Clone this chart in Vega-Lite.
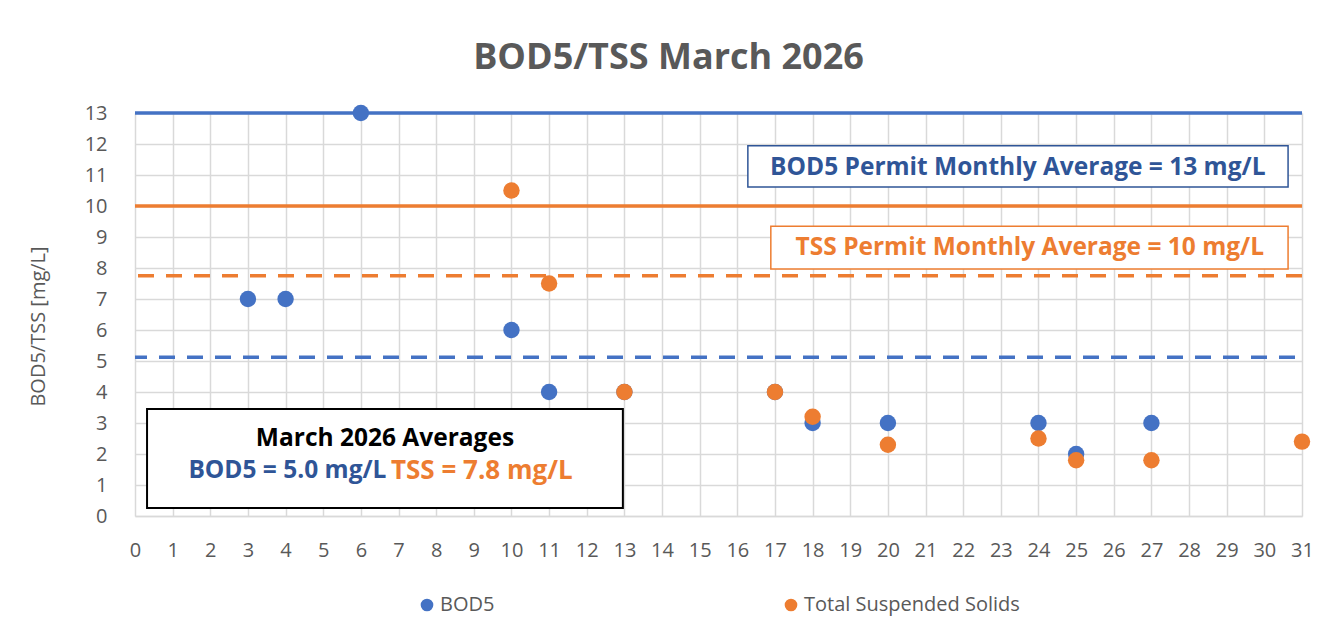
{
  "$schema": "https://vega.github.io/schema/vega-lite/v6.json",
  "autosize": "none",
  "width": 1167,
  "height": 403,
  "padding": {"left": 135, "top": 113, "right": 26, "bottom": 120},
  "background": "white",
  "config": {
    "view": {"stroke": null},
    "font": "Open Sans",
    "axis": {
      "gridColor": "#D9D9D9",
      "gridWidth": 1.5,
      "domainColor": "#D9D9D9",
      "domainWidth": 1.5,
      "ticks": false,
      "labelColor": "#595959",
      "labelFont": "Open Sans",
      "labelFontSize": 20,
      "labelOverlap": false,
      "labelFlush": false,
      "labelBound": false,
      "titleColor": "#595959",
      "titleFont": "Open Sans",
      "titleFontWeight": "normal",
      "titleFontSize": 20
    },
    "axisX": {"tickCount": 31, "labelPadding": 24, "title": null},
    "axisY": {"tickCount": 13, "labelPadding": 28, "titlePadding": 36, "titleY": 213, "domain": false}
  },
  "title": {
    "text": "BOD5/TSS March 2026",
    "font": "Open Sans",
    "fontSize": 36,
    "fontWeight": "bold",
    "color": "#595959",
    "anchor": "middle",
    "dx": -50,
    "offset": 26
  },
  "datasets": {
    "points": [
      {"day": 3, "value": 7, "series": "BOD5"},
      {"day": 4, "value": 7, "series": "BOD5"},
      {"day": 6, "value": 13, "series": "BOD5"},
      {"day": 10, "value": 6, "series": "BOD5"},
      {"day": 11, "value": 4, "series": "BOD5"},
      {"day": 13, "value": 4, "series": "BOD5"},
      {"day": 17, "value": 4, "series": "BOD5"},
      {"day": 18, "value": 3, "series": "BOD5"},
      {"day": 20, "value": 3, "series": "BOD5"},
      {"day": 24, "value": 3, "series": "BOD5"},
      {"day": 25, "value": 2, "series": "BOD5"},
      {"day": 27, "value": 3, "series": "BOD5"},
      {"day": 10, "value": 10.5, "series": "Total Suspended Solids"},
      {"day": 11, "value": 7.5, "series": "Total Suspended Solids"},
      {"day": 13, "value": 4, "series": "Total Suspended Solids"},
      {"day": 17, "value": 4, "series": "Total Suspended Solids"},
      {"day": 18, "value": 3.2, "series": "Total Suspended Solids"},
      {"day": 20, "value": 2.3, "series": "Total Suspended Solids"},
      {"day": 24, "value": 2.5, "series": "Total Suspended Solids"},
      {"day": 25, "value": 1.8, "series": "Total Suspended Solids"},
      {"day": 27, "value": 1.8, "series": "Total Suspended Solids"},
      {"day": 31, "value": 2.4, "series": "Total Suspended Solids"}
    ]
  },
  "layer": [
    {
      "data": {"values": [{"limit": 13}]},
      "mark": {"type": "rule", "color": "#4472C4", "strokeWidth": 3.5},
      "encoding": {"y": {"field": "limit", "type": "quantitative", "title": "BOD5/TSS [mg/L]", "scale": {"domain": [0, 13], "nice": false}}}
    },
    {
      "data": {"values": [{"limit": 10}]},
      "mark": {"type": "rule", "color": "#ED7D31", "strokeWidth": 3.5},
      "encoding": {"y": {"field": "limit", "type": "quantitative", "title": "BOD5/TSS [mg/L]"}}
    },
    {
      "data": {"values": [{"avg": 7.75}]},
      "mark": {"type": "rule", "color": "#ED7D31", "strokeWidth": 3.5, "strokeDash": [16, 12]},
      "encoding": {"y": {"field": "avg", "type": "quantitative", "title": "BOD5/TSS [mg/L]"}}
    },
    {
      "data": {"values": [{"avg": 5.12}]},
      "mark": {"type": "rule", "color": "#4472C4", "strokeWidth": 3.5, "strokeDash": [16, 12], "strokeDashOffset": -7},
      "encoding": {"y": {"field": "avg", "type": "quantitative", "title": "BOD5/TSS [mg/L]"}}
    },
    {
      "data": {"values": [{"x": 16.28, "x2": 30.63, "y": 11.94, "y2": 10.61}]},
      "mark": {"type": "rect", "fill": "white", "stroke": "#2F5597", "strokeWidth": 1.5},
      "encoding": {
        "x": {"field": "x", "type": "quantitative", "title": null, "scale": {"domain": [0, 31], "nice": false}},
        "x2": {"field": "x2"},
        "y": {"field": "y", "type": "quantitative", "title": "BOD5/TSS [mg/L]"},
        "y2": {"field": "y2"}
      }
    },
    {
      "data": {"values": [{"x": 16.89, "x2": 30.63, "y": 9.35, "y2": 7.97}]},
      "mark": {"type": "rect", "fill": "white", "stroke": "#ED7D31", "strokeWidth": 1.5},
      "encoding": {
        "x": {"field": "x", "type": "quantitative", "title": null},
        "x2": {"field": "x2"},
        "y": {"field": "y", "type": "quantitative", "title": "BOD5/TSS [mg/L]"},
        "y2": {"field": "y2"}
      }
    },
    {
      "data": {"values": [{"x": 0.32, "x2": 12.96, "y": 3.45, "y2": 0.26}]},
      "mark": {"type": "rect", "fill": "white", "stroke": "black", "strokeWidth": 2},
      "encoding": {
        "x": {"field": "x", "type": "quantitative", "title": null},
        "x2": {"field": "x2"},
        "y": {"field": "y", "type": "quantitative", "title": "BOD5/TSS [mg/L]"},
        "y2": {"field": "y2"}
      }
    },
    {
      "data": {"name": "points"},
      "mark": {"type": "point", "filled": true, "shape": "circle", "size": 270, "opacity": 1},
      "encoding": {
        "x": {"field": "day", "type": "quantitative", "title": null},
        "y": {"field": "value", "type": "quantitative", "title": "BOD5/TSS [mg/L]"},
        "color": {
          "field": "series",
          "type": "nominal",
          "scale": {"domain": ["BOD5", "Total Suspended Solids"], "range": ["#4472C4", "#ED7D31"]},
          "legend": {
            "orient": "none",
            "legendX": 282,
            "legendY": 482,
            "direction": "horizontal",
            "title": null,
            "symbolType": "circle",
            "symbolSize": 160,
            "labelFontSize": 20,
            "labelLimit": 400,
            "labelColor": "#595959",
            "labelFont": "Open Sans",
            "labelOffset": 3,
            "columnPadding": 286
          }
        }
      }
    },
    {
      "data": {"values": [{"x": 23.45, "y": 11.22}]},
      "mark": {"type": "text", "text": "BOD5 Permit Monthly Average = 13 mg/L", "font": "Open Sans", "fontSize": 24.5, "fontWeight": "bold", "color": "#2F5597", "align": "center", "baseline": "middle"},
      "encoding": {"x": {"field": "x", "type": "quantitative", "title": null}, "y": {"field": "y", "type": "quantitative", "title": "BOD5/TSS [mg/L]"}}
    },
    {
      "data": {"values": [{"x": 23.77, "y": 8.64}]},
      "mark": {"type": "text", "text": "TSS Permit Monthly Average = 10 mg/L", "font": "Open Sans", "fontSize": 24.5, "fontWeight": "bold", "color": "#ED7D31", "align": "center", "baseline": "middle"},
      "encoding": {"x": {"field": "x", "type": "quantitative", "title": null}, "y": {"field": "y", "type": "quantitative", "title": "BOD5/TSS [mg/L]"}}
    },
    {
      "data": {"values": [{"x": 6.64, "y": 2.5}]},
      "mark": {"type": "text", "text": "March 2026 Averages", "font": "Open Sans", "fontSize": 24.5, "fontWeight": "bold", "color": "black", "align": "center", "baseline": "middle"},
      "encoding": {"x": {"field": "x", "type": "quantitative", "title": null}, "y": {"field": "y", "type": "quantitative", "title": "BOD5/TSS [mg/L]"}}
    },
    {
      "data": {"values": [{"x": 6.68, "y": 1.45}]},
      "mark": {"type": "text", "text": "BOD5 = 5.0 mg/L", "font": "Open Sans", "fontSize": 24.5, "fontWeight": "bold", "color": "#2F5597", "align": "right", "baseline": "middle"},
      "encoding": {"x": {"field": "x", "type": "quantitative", "title": null}, "y": {"field": "y", "type": "quantitative", "title": "BOD5/TSS [mg/L]"}}
    },
    {
      "data": {"values": [{"x": 6.8, "y": 1.45}]},
      "mark": {"type": "text", "text": "TSS = 7.8 mg/L", "font": "Open Sans", "fontSize": 26, "fontWeight": "bold", "color": "#ED7D31", "align": "left", "baseline": "middle"},
      "encoding": {"x": {"field": "x", "type": "quantitative", "title": null}, "y": {"field": "y", "type": "quantitative", "title": "BOD5/TSS [mg/L]"}}
    }
  ]
}
